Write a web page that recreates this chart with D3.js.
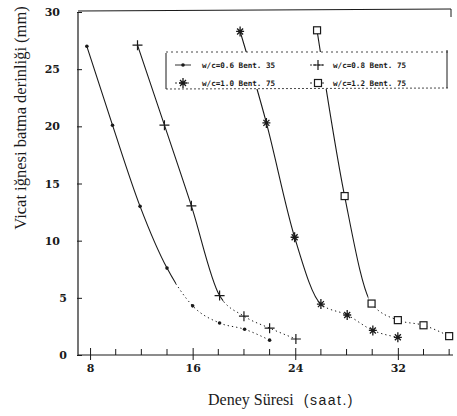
<!DOCTYPE html>
<html>
<head>
  <meta charset="utf-8">
  <title>Vicat</title>
  <script src="https://d3js.org/d3.v7.min.js"></script>
  <style>
    body { margin: 0; background: #fff; }
    svg { display: block; }
  </style>
</head>
<body>
  <div id="chart"></div>
  <script>
    // veriler
    var seriesLabels = ["w/c=0.6 Bent. 35", "w/c=0.8 Bent. 75", "w/c=1.0 Bent. 75", "w/c=1.2 Bent. 75"];

    var hoursA = [7.75, 9.75, 11.9, 14, 16, 18.1, 20.05, 22];
    var depthA = [27, 20.1, 13, 7.6, 4.3, 2.8, 2.25, 1.3];

    var hoursB = [11.7, 13.8, 15.9, 18.1, 20, 22, 24.05];
    var depthB = [27.1, 20.1, 13.05, 5.2, 3.4, 2.35, 1.4];

    var hoursC = [19.7, 21.75, 23.95, 26, 28.05, 30.05, 32];
    var depthC = [28.3, 20.3, 10.3, 4.45, 3.5, 2.15, 1.55];

    var hoursD = [25.7, 27.85, 29.95, 32, 34, 36];
    var depthD = [28.4, 13.9, 4.5, 3.05, 2.6, 1.65];

    // duz cizginin bittigi saat (sonrasi noktali)
    var solidUntil = [14.7, 18.4, 26.1, 29.7];

    var yTicks = [0, 5, 10, 15, 20, 25, 30];
    var xMajorTicks = [8, 16, 24, 32];
    var xMinorTicks = [10, 12, 14, 18, 20, 22, 26, 28, 30, 34, 36];

    var W = 457, H = 416;
    var pL = 78, pR = 453, pT = 12, pB = 355;

    var svg = d3.select("#chart").append("svg")
      .attr("width", W)
      .attr("height", H);

    var x = d3.scaleLinear().domain([7.06, 36.3]).range([pL, pR]);
    var y = d3.scaleLinear().domain([0, 30]).range([pB, pT]);

    var ink = "#1a1a1a";

    // eksenler
    svg.append("line")
      .attr("x1", pL).attr("x2", pL).attr("y1", pT).attr("y2", pB)
      .attr("stroke", ink).attr("stroke-width", 1.2);
    svg.append("line")
      .attr("x1", pL).attr("x2", pR).attr("y1", pB).attr("y2", pB)
      .attr("stroke", ink).attr("stroke-width", 1.2);
    svg.append("line")
      .attr("x1", pL).attr("x2", pR - 2).attr("y1", pT - 1).attr("y2", pT - 3)
      .attr("stroke", ink).attr("stroke-width", 1.2);
    svg.append("line")
      .attr("x1", pR - 2).attr("x2", pR - 2).attr("y1", pT - 3).attr("y2", pT + 5)
      .attr("stroke", ink).attr("stroke-width", 1);

    var yAxis = d3.axisLeft(y)
      .tickValues(yTicks)
      .tickSize(-4)
      .tickPadding(19)
      .tickFormat(d3.format("d"));

    var yg = svg.append("g")
      .attr("transform", "translate(" + (pL + 1) + ",0)")
      .call(yAxis);
    yg.select(".domain").remove();
    yg.selectAll(".tick line").attr("stroke", ink).attr("x2", 3).attr("x1", -2);
    yg.selectAll(".tick text")
      .attr("dx", function (d) { return d < 10 ? 7 : 0; })
      .attr("font-family", "'DejaVu Serif', serif")
      .attr("font-weight", "bold")
      .attr("font-size", 11)
      .attr("fill", ink);

    var xAxis = d3.axisBottom(x)
      .tickValues(xMajorTicks)
      .tickSize(5)
      .tickPadding(4)
      .tickFormat(d3.format("d"));

    var xg = svg.append("g")
      .attr("transform", "translate(0," + pB + ")")
      .call(xAxis);
    xg.select(".domain").remove();
    xg.selectAll(".tick line").attr("stroke", ink).attr("y1", -7).attr("y2", 5);
    xg.selectAll(".tick text")
      .attr("font-family", "'DejaVu Serif', serif")
      .attr("font-weight", "bold")
      .attr("font-size", 11)
      .attr("fill", ink);

    svg.append("g").selectAll("line")
      .data(xMinorTicks)
      .join("line")
      .attr("x1", function (d) { return x(d); })
      .attr("x2", function (d) { return x(d); })
      .attr("y1", pB)
      .attr("y2", pB - 6)
      .attr("stroke", ink);

    // egriler
    var series = [
      { hours: hoursA, depth: depthA, mark: "dot" },
      { hours: hoursB, depth: depthB, mark: "plus" },
      { hours: hoursC, depth: depthC, mark: "star" },
      { hours: hoursD, depth: depthD, mark: "square" }
    ];

    var line = d3.line()
      .x(function (d) { return x(d[0]); })
      .y(function (d) { return y(d[1]); })
      .curve(d3.curveMonotoneX);

    var defs = svg.append("defs");

    series.forEach(function (s, i) {
      var pts = s.hours.map(function (h, j) { return [h, s.depth[j]]; });
      var xb = x(solidUntil[i]);

      defs.append("clipPath").attr("id", "solid" + i)
        .append("rect").attr("x", 0).attr("y", 0).attr("width", xb).attr("height", H);
      defs.append("clipPath").attr("id", "dots" + i)
        .append("rect").attr("x", xb).attr("y", 0).attr("width", W - xb).attr("height", H);

      svg.append("path")
        .datum(pts)
        .attr("d", line)
        .attr("fill", "none")
        .attr("stroke", ink)
        .attr("stroke-width", 1.1)
        .attr("clip-path", "url(#solid" + i + ")");

      svg.append("path")
        .datum(pts)
        .attr("d", line)
        .attr("fill", "none")
        .attr("stroke", ink)
        .attr("stroke-width", 1)
        .attr("stroke-dasharray", "1.3,3")
        .attr("clip-path", "url(#dots" + i + ")");

      var g = svg.append("g");
      pts.forEach(function (p) {
        drawMark(g, s.mark, x(p[0]), y(p[1]));
      });
    });

    function drawMark(g, kind, cx, cy) {
      if (kind === "dot") {
        g.append("circle").attr("cx", cx).attr("cy", cy).attr("r", 1.8).attr("fill", ink);
      } else if (kind === "plus") {
        g.append("path")
          .attr("d", "M" + (cx - 5) + "," + cy + "H" + (cx + 5) + "M" + cx + "," + (cy - 5) + "V" + (cy + 5))
          .attr("stroke", ink).attr("stroke-width", 1.2);
      } else if (kind === "star") {
        var r = 4;
        var d = "M" + (cx - r) + "," + cy + "H" + (cx + r) +
          "M" + cx + "," + (cy - r - 1) + "V" + (cy + r + 1) +
          "M" + (cx - r + 1) + "," + (cy - r + 1) + "L" + (cx + r - 1) + "," + (cy + r - 1) +
          "M" + (cx - r + 1) + "," + (cy + r - 1) + "L" + (cx + r - 1) + "," + (cy - r + 1);
        g.append("path").attr("d", d).attr("stroke", ink).attr("stroke-width", 1.3);
      } else if (kind === "square") {
        g.append("rect")
          .attr("x", cx - 3.5).attr("y", cy - 3.5)
          .attr("width", 7).attr("height", 7)
          .attr("fill", "#fff").attr("stroke", ink).attr("stroke-width", 1.2);
      }
    }

    // lejant
    var lg = svg.append("g");
    lg.append("rect")
      .attr("x", 166).attr("y", 52).attr("width", 282).attr("height", 37)
      .attr("fill", "#fff");
    lg.append("line").attr("x1", 166).attr("x2", 448).attr("y1", 52).attr("y2", 52)
      .attr("stroke", ink).attr("stroke-dasharray", "2,3").attr("stroke-width", 0.8);
    lg.append("line").attr("x1", 166).attr("x2", 448).attr("y1", 89).attr("y2", 88)
      .attr("stroke", ink).attr("stroke-dasharray", "2,2").attr("stroke-width", 0.8);
    lg.append("line").attr("x1", 166).attr("x2", 166).attr("y1", 53).attr("y2", 89)
      .attr("stroke", ink).attr("stroke-width", 1);
    lg.append("line").attr("x1", 447).attr("x2", 447).attr("y1", 50).attr("y2", 88)
      .attr("stroke", ink).attr("stroke-width", 1);

    var legendPos = [
      { sx: 183, tx: 202, ty: 65 },
      { sx: 318, tx: 333, ty: 65 },
      { sx: 183, tx: 202, ty: 83 },
      { sx: 318, tx: 333, ty: 83 }
    ];

    series.forEach(function (s, i) {
      var p = legendPos[i];
      lg.append("line")
        .attr("x1", p.sx - 8).attr("x2", p.sx + 8)
        .attr("y1", p.ty).attr("y2", p.ty)
        .attr("stroke", ink).attr("stroke-width", 0.9)
        .attr("stroke-dasharray", i === 0 ? null : "2,2");
      drawMark(lg, s.mark, p.sx, p.ty);
      lg.append("text")
        .attr("x", p.tx).attr("y", p.ty + 3)
        .attr("font-family", "'DejaVu Sans Mono', monospace")
        .attr("font-weight", "bold")
        .attr("font-size", 7.6)
        .attr("fill", ink)
        .text(seriesLabels[i]);
    });

    // eksen basliklari
    svg.append("text")
      .attr("transform", "translate(26,118) rotate(-90)")
      .attr("text-anchor", "middle")
      .attr("font-family", "'Liberation Serif', serif")
      .attr("font-size", 16.5)
      .attr("fill", ink)
      .text("Vicat iğnesi batma derinliği (mm)");

    var xt = svg.append("text")
      .attr("x", 208).attr("y", 405)
      .attr("font-family", "'Liberation Serif', serif")
      .attr("font-size", 16)
      .attr("fill", ink);
    xt.append("tspan").text("Deney Süresi ");
    xt.append("tspan")
      .attr("dx", 6)
      .attr("font-family", "'Liberation Sans', sans-serif")
      .attr("font-size", 14)
      .attr("letter-spacing", 1.5)
      .text("(saat.)");
  </script>
</body>
</html>
